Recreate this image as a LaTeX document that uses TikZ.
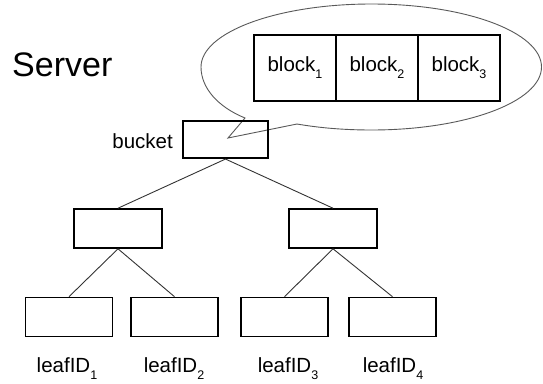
\documentclass[tikz,border=0pt]{standalone}
\usepackage{fontspec}
\setmainfont{Liberation Sans}
\newcommand\subidx[1]{\raisebox{-7pt}{\fontsize{12.5}{12.5}\selectfont #1}}
\tikzset{
  box/.style={draw, line width=1.6pt, inner sep=0pt, minimum width=87pt, minimum height=39pt},
  blockbox/.style={draw, line width=1.7pt, inner sep=0pt, minimum width=82pt, minimum height=66.5pt, font=\fontsize{20.5}{20.5}\selectfont},
  conn/.style={line width=0.9pt, draw=black!80},
  lbl/.style={inner sep=0pt, font=\fontsize{20.5}{20.5}\selectfont},
  bubble/.style={draw=black!65, line width=0.9pt, fill=white}
}
\begin{document}
\begin{tikzpicture}[x=1pt, y=-1pt]
\useasboundingbox (0,0) rectangle (543,383);

% title
\node[inner sep=0pt, anchor=base west, font=\fontsize{34}{34}\selectfont] (server) at (12,76) {Server};

% callout bubble
\draw[bubble] (201,67) .. controls (201,88) and (218,107) .. (245,118)
  -- (228,138) -- (297,124)
  .. controls (320,128) and (345,130) .. (371.5,130)
  .. controls (465.7,130) and (541.5,101.8) .. (541.5,67)
  .. controls (541.5,32.2) and (465.7,4) .. (371.5,4)
  .. controls (277.3,4) and (201,32.2) .. (201,67) -- cycle;

% blocks
\node[blockbox] (b1) at (295,68) {block\subidx{1}};
\node[blockbox] (b2) at (377,68) {block\subidx{2}};
\node[blockbox] (b3) at (459,68) {block\subidx{3}};

% tree
\node[box, minimum width=85.5pt, minimum height=37.5pt] (bucket) at (225.5,139.5) {};
\node[lbl, anchor=base east] (bucketlbl) at (173,148) {bucket};

\node[box, minimum width=88.5pt] (m1) at (118,228.5) {};
\node[box, minimum width=88.5pt] (m2) at (333,228.5) {};

\node[box] (l1) at (69,317) {};
\node[box] (l2) at (174.5,317) {};
\node[box] (l3) at (284.5,317) {};
\node[box] (l4) at (392.5,317) {};

\draw[conn] (bucket.south) -- (m1.north);
\draw[conn] (bucket.south) -- (m2.north);
\draw[conn] (m1.south) -- (l1.north);
\draw[conn] (m1.south) -- (l2.north);
\draw[conn] (m2.south) -- (l3.north);
\draw[conn] (m2.south) -- (l4.north);

\node[lbl, anchor=base] (t1) at (67,372) {leafID\subidx{1}};
\node[lbl, anchor=base] (t2) at (174,372) {leafID\subidx{2}};
\node[lbl, anchor=base] (t3) at (288,372) {leafID\subidx{3}};
\node[lbl, anchor=base] (t4) at (393,372) {leafID\subidx{4}};
\end{tikzpicture}
\end{document}
